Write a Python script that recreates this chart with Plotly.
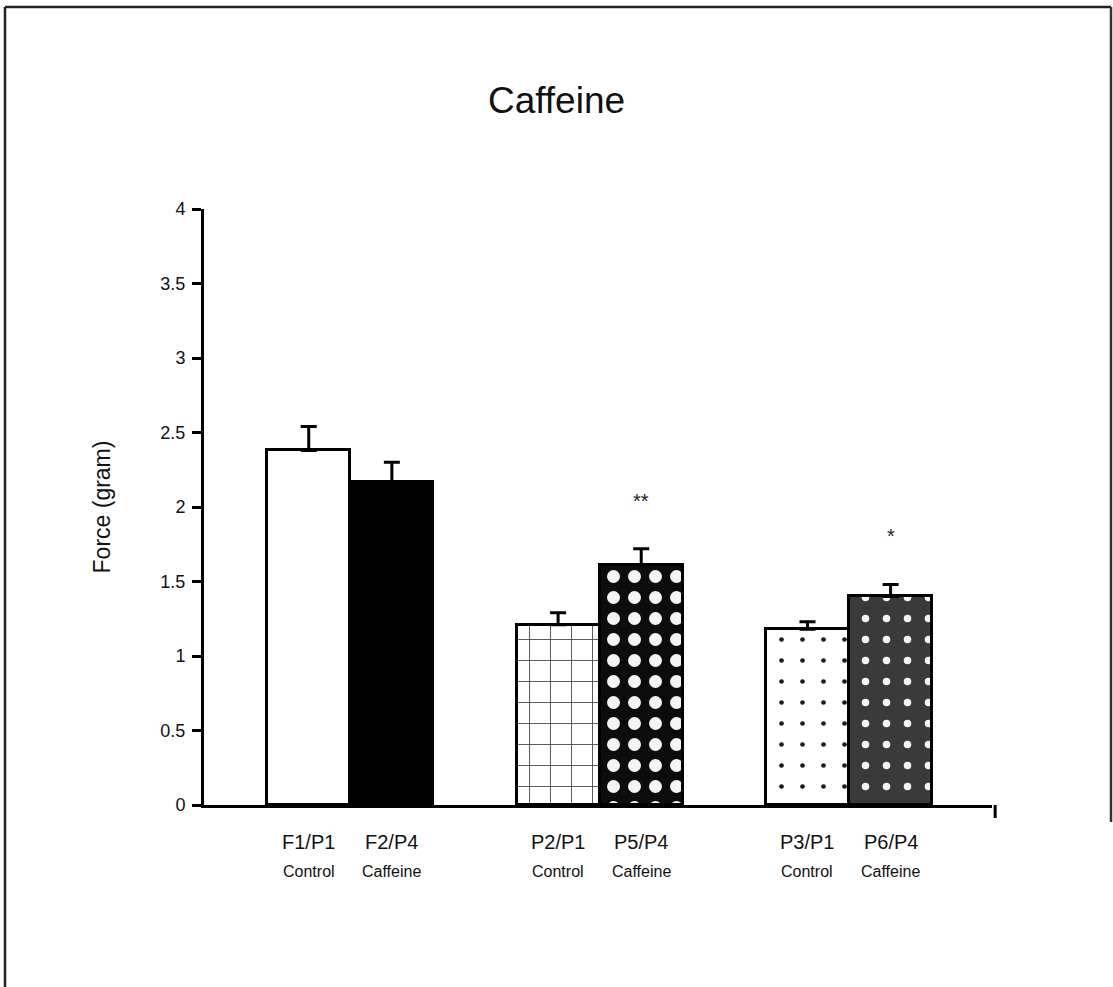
import plotly.graph_objects as go

# ---------------- data ----------------
categories = ["F1/P1", "F2/P4", "P2/P1", "P5/P4", "P3/P1", "P6/P4"]
conditions = ["Control", "Caffeine", "Control", "Caffeine", "Control", "Caffeine"]
force_mean = [2.38, 2.17, 1.21, 1.61, 1.18, 1.40]
force_sem = [0.16, 0.13, 0.08, 0.11, 0.05, 0.08]
significance = ["", "", "", "**", "", "*"]
y_ticks = [0, 0.5, 1, 1.5, 2, 2.5, 3, 3.5, 4]
y_ticktext = ["0", "0.5", "1", "1.5", "2", "2.5", "3", "3.5", "4"]

# category order with blank spacers between groups
category_order = ["F1/P1", "F2/P4", " ", "P2/P1", "P5/P4", "  ", "P3/P1", "P6/P4"]

# ---------------- styles ----------------
pat_shape = ["", "", "+", ".", ".", "."]
pat_bg = ["white", "black", "white", "#0c0c0c", "white", "#3a3a3a"]
pat_fg = ["black", "black", "#444444", "#f4f4f4", "#1a1a1a", "#f5f5f5"]
pat_size = [10, 10, 21, 21, 21, 21]
pat_solid = [0.3, 0.3, 0.08, 0.3, 0.04, 0.1]
bar_color = ["white", "black", "white", "#0c0c0c", "white", "#3a3a3a"]

W, H = 1113, 987
L, R, T, B = 204, 121, 209, 182
pw = W - L - R
ph = H - T - B


def px_x(p):
    return (p - L) / pw


def px_y(p):
    return (H - B - p) / ph


FONT = "Liberation Sans"

fig = go.Figure()
for i, cat in enumerate(categories):
    pattern = dict(shape=pat_shape[i], size=pat_size[i], solidity=pat_solid[i])
    if pat_shape[i]:
        pattern.update(bgcolor=pat_bg[i], fgcolor=pat_fg[i], fillmode="replace")
    fig.add_trace(go.Bar(
        x=[cat],
        y=[force_mean[i]],
        width=1.0,
        marker=dict(color=bar_color[i], line=dict(color="black", width=3),
                    pattern=pattern),
        error_y=dict(type="data", symmetric=False, array=[force_sem[i]],
                     arrayminus=[0], color="black", thickness=3, width=8),
        showlegend=False,
        hoverinfo="skip",
    ))

annotations = []
for cat, cond, m, s, sig in zip(categories, conditions, force_mean, force_sem, significance):
    annotations.append(dict(x=cat, y=0, xref="x", yref="y", text=cat,
                            showarrow=False, yshift=-37, yanchor="middle",
                            font=dict(family=FONT, size=20, color="#111")))
    annotations.append(dict(x=cat, y=0, xref="x", yref="y", text=cond,
                            showarrow=False, yshift=-66, yanchor="middle",
                            font=dict(family=FONT, size=16, color="#111")))
    if sig:
        annotations.append(dict(x=cat, y=m + s, xref="x", yref="y", text=sig,
                                showarrow=False, yshift=48, yanchor="middle",
                                font=dict(family=FONT, size=20, color="#222")))

shapes = [
    # outer frame (left, top, right)
    dict(type="line", xref="paper", yref="paper", x0=px_x(5), x1=px_x(5),
         y0=px_y(7), y1=px_y(987), line=dict(color="#222", width=2.5)),
    dict(type="line", xref="paper", yref="paper", x0=px_x(5), x1=px_x(1111),
         y0=px_y(7), y1=px_y(7), line=dict(color="#222", width=2.5)),
    dict(type="line", xref="paper", yref="paper", x0=px_x(1111), x1=px_x(1111),
         y0=px_y(7), y1=px_y(822), line=dict(color="#333", width=2.5)),
    # small end tick of x axis
    dict(type="line", xref="paper", yref="paper", x0=1.004, x1=1.004,
         y0=0, y1=px_y(818), line=dict(color="black", width=3)),
]

fig.update_layout(
    width=W, height=H,
    margin=dict(l=L, r=R, t=T, b=B, pad=0),
    paper_bgcolor="white", plot_bgcolor="white",
    barmode="overlay",
    bargap=0,
    font=dict(family=FONT, color="#111"),
    title=dict(text="Caffeine", x=0.5, xref="container", xanchor="center",
               y=1 - 100 / H, yref="container", yanchor="middle",
               font=dict(family=FONT, size=37, color="#111")),
    xaxis=dict(type="category", categoryorder="array", categoryarray=category_order,
               range=[-1.26, 8.22], showticklabels=False, ticks="",
               showline=True, linecolor="black", linewidth=3,
               showgrid=False, zeroline=False, fixedrange=True),
    yaxis=dict(range=[0, 4], tickvals=y_ticks, ticktext=y_ticktext,
               ticks="outside", ticklen=9, tickwidth=3, tickcolor="black",
               ticklabelstandoff=3,
               tickfont=dict(family=FONT, size=18, color="#111"),
               showline=True, linecolor="black", linewidth=3,
               showgrid=False, zeroline=False,
               title=dict(text="Force (gram)", standoff=44,
                          font=dict(family=FONT, size=23, color="#111"))),
    annotations=annotations,
    shapes=shapes,
)

fig.write_html("out.html")
